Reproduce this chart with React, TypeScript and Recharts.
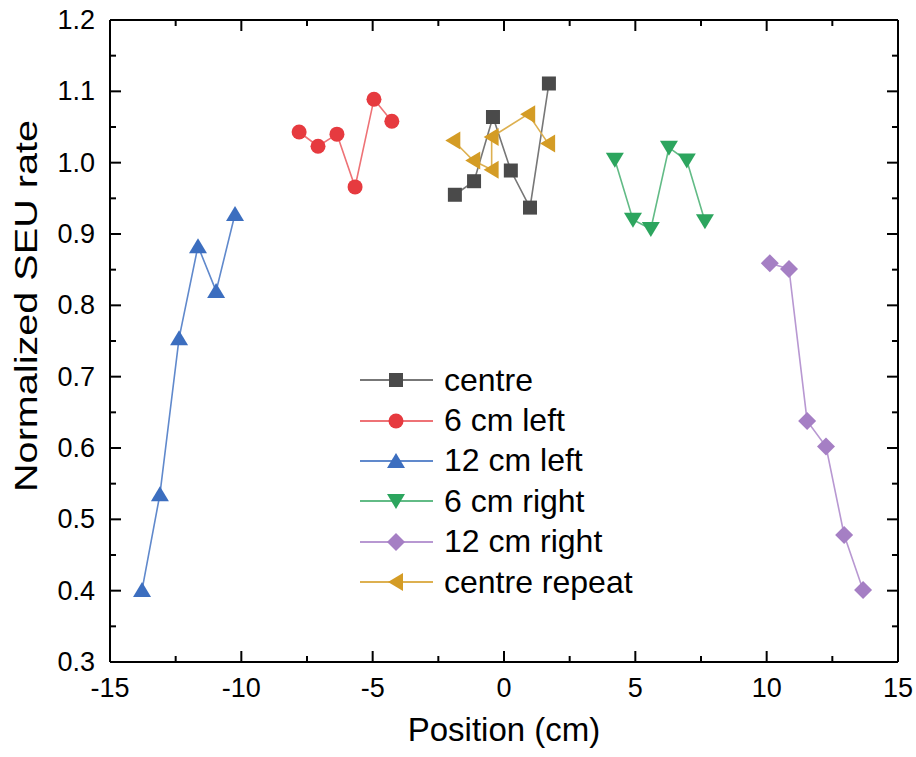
import { LineChart, Line, XAxis, YAxis, Legend } from 'recharts'

const xTicks = [-15, -12.5, -10, -7.5, -5, -2.5, 0, 2.5, 5, 7.5, 10, 12.5, 15]
const xTickLabels = ['-15', '-10', '-5', '0', '5', '10', '15']
const yTicks = [0.3, 0.35, 0.4, 0.45, 0.5, 0.55, 0.6, 0.65, 0.7, 0.75, 0.8, 0.85, 0.9, 0.95, 1.0, 1.05, 1.1, 1.15, 1.2]
const yTickLabels = ['0.3', '0.4', '0.5', '0.6', '0.7', '0.8', '0.9', '1.0', '1.1', '1.2']

const centreX = [-1.87, -1.14, -0.42, 0.26, 0.99, 1.71]
const centreY = [0.955, 0.974, 1.064, 0.989, 0.937, 1.111]
const left6X = [-7.8, -7.08, -6.36, -5.67, -4.95, -4.27]
const left6Y = [1.043, 1.023, 1.04, 0.966, 1.089, 1.058]
const left12X = [-13.78, -13.1, -12.37, -11.65, -10.96, -10.24]
const left12Y = [0.401, 0.535, 0.754, 0.883, 0.82, 0.928]
const right6X = [4.22, 4.91, 5.59, 6.28, 6.96, 7.65]
const right6Y = [1.004, 0.92, 0.907, 1.021, 1.003, 0.918]
const right12X = [10.12, 10.85, 11.54, 12.26, 12.95, 13.67]
const right12Y = [0.859, 0.851, 0.638, 0.602, 0.478, 0.401]
const repeatX = [-1.93, -1.17, -0.47, -0.47, 0.92, 1.68]
const repeatY = [1.031, 1.003, 0.99, 1.036, 1.068, 1.027]

const toPoints = (xs: number[], ys: number[]) => xs.map((x, i) => ({ x, y: ys[i] }))

const series = [
  { name: 'centre', data: toPoints(centreX, centreY), shape: 'square', fill: '#4a4a4a', line: '#777777' },
  { name: '6 cm left', data: toPoints(left6X, left6Y), shape: 'circle', fill: '#e63a3f', line: '#ee7276' },
  { name: '12 cm left', data: toPoints(left12X, left12Y), shape: 'up', fill: '#3c6ebf', line: '#6089cc' },
  { name: '6 cm right', data: toPoints(right6X, right6Y), shape: 'down', fill: '#2ca55e', line: '#62bb86' },
  { name: '12 cm right', data: toPoints(right12X, right12Y), shape: 'diamond', fill: '#a57fc4', line: '#b898d2' },
  { name: 'centre repeat', data: toPoints(repeatX, repeatY), shape: 'left', fill: '#d49c25', line: '#ddb050' },
]

function Marker({ cx, cy, shape, fill }: any) {
  if (cx == null || cy == null) return null
  switch (shape) {
    case 'square':
      return <rect x={cx - 7} y={cy - 7} width={14} height={14} fill={fill} />
    case 'circle':
      return <circle cx={cx} cy={cy} r={7.5} fill={fill} />
    case 'up':
      return <polygon points={`${cx},${cy - 8} ${cx + 9},${cy + 7} ${cx - 9},${cy + 7}`} fill={fill} />
    case 'down':
      return <polygon points={`${cx},${cy + 8} ${cx + 9},${cy - 7} ${cx - 9},${cy - 7}`} fill={fill} />
    case 'diamond':
      return <polygon points={`${cx},${cy - 9} ${cx + 9},${cy} ${cx},${cy + 9} ${cx - 9},${cy}`} fill={fill} />
    default:
      return <polygon points={`${cx - 8},${cy} ${cx + 7},${cy - 9} ${cx + 7},${cy + 9}`} fill={fill} />
  }
}

const isMajorY = (v: number) => yTickLabels.includes(v.toFixed(1)) && Math.abs(v * 10 - Math.round(v * 10)) < 1e-6
const isMajorX = (v: number) => xTickLabels.includes(String(v))

function BottomTick({ x, y, payload }: any) {
  const major = isMajorX(payload.value)
  return (
    <g>
      <line x1={x} x2={x} y1={y} y2={y - (major ? 11 : 6)} stroke="#000" strokeWidth={2} />
      {major && (
        <text x={x} y={y + 26} textAnchor="middle" dominantBaseline="central" fontSize={27} fill="#000">
          {payload.value}
        </text>
      )}
    </g>
  )
}

function TopTick({ x, y, payload }: any) {
  const major = isMajorX(payload.value)
  return <line x1={x} x2={x} y1={y} y2={y + (major ? 11 : 6)} stroke="#000" strokeWidth={2} />
}

function LeftTick({ x, y, payload }: any) {
  const major = isMajorY(payload.value)
  return (
    <g>
      <line x1={x} x2={x + (major ? 11 : 6)} y1={y} y2={y} stroke="#000" strokeWidth={2} />
      {major && (
        <text x={x - 15} y={y} textAnchor="end" dominantBaseline="central" fontSize={27} fill="#000">
          {payload.value.toFixed(1)}
        </text>
      )}
    </g>
  )
}

function RightTick({ x, y, payload }: any) {
  const major = isMajorY(payload.value)
  return <line x1={x} x2={x - (major ? 11 : 6)} y1={y} y2={y} stroke="#000" strokeWidth={2} />
}

function YTitle({ viewBox }: any) {
  const cx = viewBox.x + 26
  const cy = viewBox.y + viewBox.height / 2 - 35
  return (
    <text
      x={cx}
      y={cy}
      transform={`rotate(-90 ${cx} ${cy})`}
      textAnchor="middle"
      dominantBaseline="central"
      fontSize={32}
      textLength={372}
      lengthAdjust="spacingAndGlyphs"
      fill="#000"
    >
      Normalized SEU rate
    </text>
  )
}

function XTitle({ viewBox }: any) {
  return (
    <text x={viewBox.x + viewBox.width / 2} y={viewBox.y + 67} textAnchor="middle" dominantBaseline="central" fontSize={33} fill="#000">
      Position (cm)
    </text>
  )
}

function LegendBox() {
  return (
    <div>
      {series.map(s => (
        <div key={s.name} style={{ display: 'flex', alignItems: 'center', height: 40.4 }}>
          <svg width={86} height={40}>
            <line x1={2} x2={75} y1={20} y2={20} stroke={s.line} strokeWidth={2} />
            <Marker cx={38} cy={20} shape={s.shape} fill={s.fill} />
          </svg>
          <span style={{ fontSize: 32, color: '#000', whiteSpace: 'nowrap' }}>{s.name}</span>
        </div>
      ))}
    </div>
  )
}

const axisLine = { stroke: '#000', strokeWidth: 2 }

export default function App() {
  return (
    <div style={{ position: 'absolute', left: 0, top: 0, fontFamily: '"Liberation Sans", Arial, sans-serif', background: '#fff' }}>
      <LineChart width={916} height={757} margin={{ top: 19, right: 17, bottom: 0, left: 0 }}>
        <XAxis
          xAxisId={0}
          dataKey="x"
          type="number"
          domain={[-15, 15]}
          ticks={xTicks}
          interval={0}
          allowDataOverflow
          tickSize={0}
          tickMargin={0}
          tickLine={false}
          axisLine={axisLine}
          tick={(p: any) => <BottomTick {...p} />}
          height={95}
          label={(p: any) => <XTitle {...p} />}
        />
        <XAxis
          xAxisId="top"
          orientation="top"
          dataKey="x"
          type="number"
          domain={[-15, 15]}
          ticks={xTicks}
          interval={0}
          allowDataOverflow
          tickSize={0}
          tickMargin={0}
          tickLine={false}
          axisLine={axisLine}
          tick={(p: any) => <TopTick {...p} />}
          height={1}
        />
        <YAxis
          yAxisId={0}
          type="number"
          domain={[0.3, 1.2]}
          ticks={yTicks}
          interval={0}
          allowDataOverflow
          tickSize={0}
          tickMargin={0}
          tickLine={false}
          axisLine={axisLine}
          tick={(p: any) => <LeftTick {...p} />}
          width={110}
          label={(p: any) => <YTitle {...p} />}
        />
        <YAxis
          yAxisId="right"
          orientation="right"
          type="number"
          domain={[0.3, 1.2]}
          ticks={yTicks}
          interval={0}
          allowDataOverflow
          tickSize={0}
          tickMargin={0}
          tickLine={false}
          axisLine={axisLine}
          tick={(p: any) => <RightTick {...p} />}
          width={1}
        />
        <Legend
          layout="vertical"
          align="center"
          verticalAlign="middle"
          wrapperStyle={{ left: 358, top: 360, width: 340 }}
          content={() => <LegendBox />}
        />
        {series.map(s => (
          <Line
            key={s.name}
            xAxisId={0}
            yAxisId={0}
            data={s.data}
            dataKey="y"
            name={s.name}
            stroke={s.line}
            strokeWidth={1.6}
            isAnimationActive={false}
            dot={(p: any) => <Marker key={p.index} cx={p.cx} cy={p.cy} shape={s.shape} fill={s.fill} />}
            activeDot={false}
          />
        ))}
      </LineChart>
    </div>
  )
}
